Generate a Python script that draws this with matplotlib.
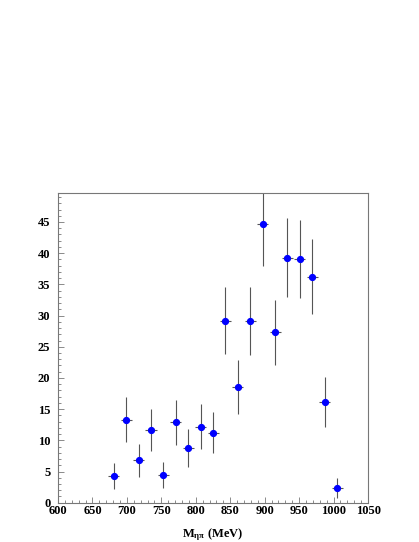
import numpy as np
import matplotlib
matplotlib.use("Agg")
import matplotlib.pyplot as plt
from matplotlib.ticker import MultipleLocator

# bin centres (MeV) and event counts with errors
mass = [681, 699, 717, 735, 753, 771, 789, 807, 825, 843,
        861, 879, 897, 915, 933, 951, 969, 987, 1005]
counts = [4.3, 13.3, 6.8, 11.7, 4.4, 12.9, 8.8, 12.2, 11.2, 29.2,
          18.5, 29.1, 44.7, 27.3, 39.3, 39.1, 36.2, 16.1, 2.4]
count_err = [2.1, 3.6, 2.6, 3.4, 2.1, 3.6, 3.0, 3.6, 3.3, 5.4,
             4.3, 5.4, 6.7, 5.2, 6.3, 6.3, 6.0, 4.0, 1.6]
mass_err = [8] * len(mass)

plt.rcParams["font.family"] = ["Liberation Serif", "DejaVu Serif"]
plt.rcParams["font.weight"] = "bold"
plt.rcParams["mathtext.fontset"] = "custom"
plt.rcParams["mathtext.rm"] = "Liberation Serif:bold"
plt.rcParams["mathtext.it"] = "Liberation Serif:bold"
plt.rcParams["mathtext.bf"] = "Liberation Serif:bold"

fig = plt.figure(figsize=(4.19, 5.42), dpi=100)
ax = fig.add_axes([0.1384, 0.0725, 0.740, 0.572])

ax.errorbar(mass, counts, xerr=mass_err, yerr=count_err, fmt="none",
            ecolor="#555555", elinewidth=0.8, capsize=0, zorder=2)
ax.plot(mass, counts, "o", color="#0000ff", markersize=4.2, zorder=3)

ax.set_xlim(600, 1050)
ax.set_ylim(0, 49.7)
ax.xaxis.set_major_locator(MultipleLocator(50))
ax.xaxis.set_minor_locator(MultipleLocator(10))
ax.yaxis.set_major_locator(MultipleLocator(5))
ax.yaxis.set_minor_locator(MultipleLocator(1))
ax.tick_params(axis="both", which="major", direction="in", length=4,
               width=0.6, color="#777777", labelsize=9)
ax.tick_params(axis="x", which="major", pad=2)
ax.tick_params(axis="y", which="major", pad=5.5)
ax.tick_params(axis="both", which="minor", direction="in", length=2,
               width=0.6, color="#777777")
ax.tick_params(top=False, right=False, which="both")
for lab in ax.get_xticklabels() + ax.get_yticklabels():
    lab.set_fontweight("bold")
for sp in ax.spines.values():
    sp.set_color("#777777")
    sp.set_linewidth(0.8)

ax.set_xlabel(r"M$_{\eta\pi}$ (MeV)", fontsize=9, fontweight="bold", labelpad=6)

fig.savefig("out.png", dpi=100)
